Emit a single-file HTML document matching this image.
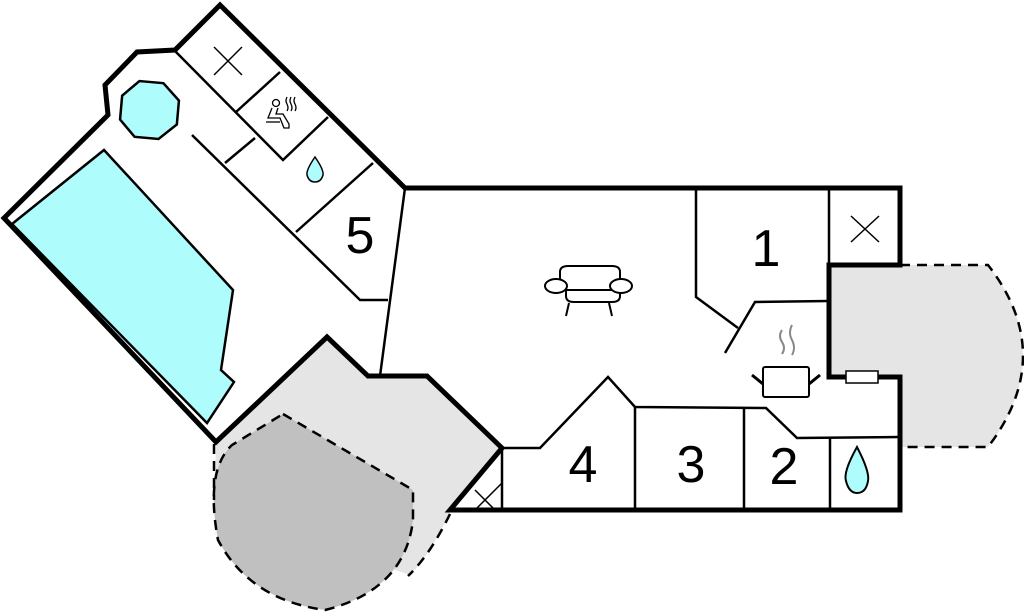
<!DOCTYPE html>
<html><head><style>html,body{margin:0;padding:0;background:#fff}svg{display:block}</style></head>
<body>
<svg width="1024" height="612" viewBox="0 0 1024 612" xmlns="http://www.w3.org/2000/svg" font-family="Liberation Sans, sans-serif">
<!-- right patio -->
<path d="M829,265 L988,265 Q1058,355 988,447 L900,447 L900,377 L829,377 Z" fill="#e5e5e5"/>
<path d="M900,265 L988,265 Q1058,355 988,447 L900,447" fill="none" stroke="#000" stroke-width="2.5" stroke-dasharray="10,7"/>
<!-- bottom-left patio -->
<path d="M216,442 L327,337 L368,376 L427,376 L502,448 L450,512 Q430,555 410,575 L214,510 Z" fill="#e5e5e5"/>
<path d="M283,414 L413,490 L413,520 Q405,590 325,610 Q250,600 218,540 Q205,470 232,445 Z" fill="#c0c0c0"/>
<path d="M283,414 L413,490 L413,520 Q405,590 325,610 Q250,600 218,540 Q205,470 232,445 Z" fill="none" stroke="#000" stroke-width="2.5" stroke-dasharray="10,7"/>
<path d="M214,444 L214,500" fill="none" stroke="#000" stroke-width="2.5" stroke-dasharray="10,7"/>
<path d="M450,514 Q430,555 408,576" fill="none" stroke="#000" stroke-width="2.5" stroke-dasharray="10,7"/>
<!-- pool -->
<path d="M12,224 L104,150 L233,290 L221,370 L234,382 L207,423 Z" fill="#aefcfc" stroke="#000" stroke-width="2.5"/>
<polygon points="137,82 161,82 178,98 178,122 161,138 137,138 121,122 121,98" fill="#aefcfc" stroke="#000" stroke-width="2.5" transform="rotate(5 149 110)"/>
<!-- thin interior walls -->
<g fill="none" stroke="#000" stroke-width="2.5">
<path d="M175,51 L283,160 L328,117"/>
<path d="M236,112 L280,72"/>
<path d="M192,135 L360,300 L388,300"/>
<path d="M225,163 L255,138"/>
<path d="M296,232 L373,163"/>
<path d="M405,188 L380,376"/>
<path d="M696,188 L696,297 L738,328"/>
<path d="M725,353 L755,302 L829,301"/>
<path d="M829,188 L829,265"/>
<path d="M502,448 L540,448 L608,377 L635,407 L766,408 L797,438 L900,437"/>
<path d="M635,407 L635,510 M744,408 L744,510 M830,438 L830,510 M502,448 L502,510"/>
</g>
<!-- X marks -->
<g stroke="#000" stroke-width="1.5" fill="none">
<path d="M214,47 L242,75 M242,47 L214,75"/>
<path d="M851,216 L879,242 M879,216 L851,242"/>
<path d="M475,510 L502,483 M475,490 L495,510"/>
</g>
<!-- thick outer walls -->
<g fill="none" stroke="#000" stroke-width="5" stroke-linejoin="miter">
<path d="M216,442 L4,218 L108,115 L105,85 L137,52 L175,50 L220,5 L405,188 L900,188 L900,265 L829,265 L829,377 L900,377 L900,510 L450,510 L502,448 L427,376 L368,376 L327,337 Z"/>
</g>
<rect x="846" y="371" width="32" height="12" fill="#fff" stroke="#000" stroke-width="1.5"/>
<!-- sofa -->
<g fill="#fff" stroke="#000" stroke-width="2">
<path d="M566,289 L566,296 Q566,302 574,302 L612,302 Q620,302 620,296 L620,289"/>
<path d="M560,283 L560,272 Q560,266 568,266 L612,266 Q620,266 620,272 L620,283"/>
<line x1="565" y1="290" x2="621" y2="290"/>
<ellipse cx="556" cy="286" rx="11" ry="7"/>
<ellipse cx="621" cy="286" rx="11" ry="7"/>
<path d="M569,303 L566,316 M609,303 L612,316" fill="none"/>
</g>
<!-- pot -->
<g stroke="#000" stroke-width="2" fill="#fff">
<rect x="763" y="367" width="46" height="30" rx="2"/>
<path d="M752,375 L763,384 M820,375 L809,384" stroke-width="3"/>
</g>
<g stroke="#888" stroke-width="2" fill="none">
<path d="M782,330 Q778,336 782,342 Q786,348 782,354"/>
<path d="M792,325 Q788,333 792,340 Q796,348 792,355"/>
</g>
<!-- drops -->
<path d="M857,447 Q843,472 846,481 Q849,493 857,493 Q866,493 868,481 Q870,472 857,447 Z" fill="#aefcfc" stroke="#000" stroke-width="2"/>
<path d="M315,157 Q306,170 307,175 Q309,182 315,182 Q321,182 323,175 Q324,170 315,157 Z" fill="#aefcfc" stroke="#000" stroke-width="1.5"/>
<!-- sauna icon -->
<g stroke="#000" stroke-width="1.3" fill="none">
<circle cx="276" cy="103" r="3.5"/>
<path d="M272,108 L268,118 L280,118 L284,128 L289,128 L289,124 L283,114 L276,114 L278,108"/>
<path d="M266,122 L280,122"/>
<path d="M287,97 Q285,101 287,104 Q289,108 287,111 M291,97 Q289,101 291,104 Q293,108 291,111 M295,97 Q293,101 295,104 Q297,108 295,111"/>
</g>
<!-- labels -->
<g font-size="52" fill="#000" text-anchor="middle">
<text x="360" y="253">5</text>
<text x="766" y="266">1</text>
<text x="784" y="484">2</text>
<text x="691" y="482">3</text>
<text x="583" y="482">4</text>
</g>
</svg>
</body></html>
